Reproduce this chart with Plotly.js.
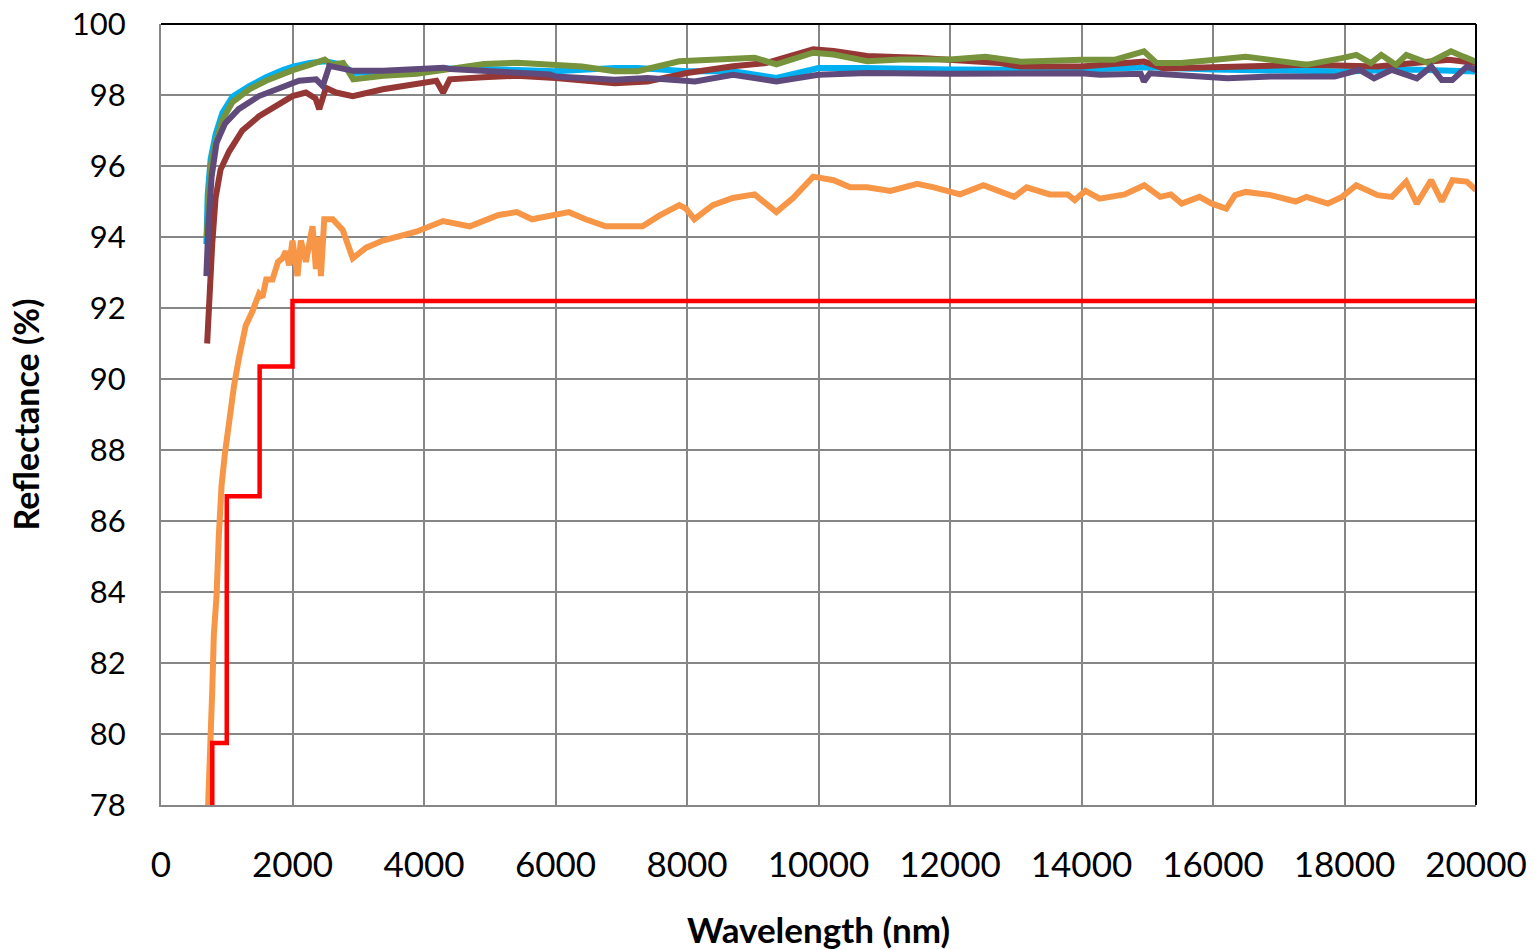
<!DOCTYPE html>
<html>
<head>
<meta charset="utf-8">
<script src="https://cdn.plot.ly/plotly-3.0.1.min.js"></script>
<style>html,body{margin:0;padding:0;background:#fff;}#chart{width:1538px;height:950px;}</style>
</head>
<body>
<div id="chart"></div>
<script>
// Wavelength (nm) and reflectance (%) per sample
const wlCyan = [690,710,755,832,934,1087,1342,1597,1852,2005,2260,2490,2770,2923,3383,3893,4300,4913,5423,6000,6900,7250,8000,8700,9360,10000,10700,12000,14000,15000,16000,17000,18000,19000,20000];
const rCyan  = [93.8,95.2,96.2,96.9,97.5,97.95,98.25,98.5,98.7,98.8,98.9,98.95,98.85,98.62,98.66,98.72,98.75,98.73,98.72,98.67,98.76,98.76,98.67,98.67,98.48,98.76,98.76,98.72,98.71,98.78,98.72,98.71,98.66,98.72,98.66];

const wlBrown = [702,730,779,830,906,1033,1237,1491,1745,2000,2204,2350,2407,2509,2662,2916,3374,3883,4188,4290,4392,4900,5410,6000,6900,7400,8000,8700,9200,9920,10230,10740,11500,12760,13080,14000,14950,15250,16330,17420,18500,19590,20000];
const rBrown  = [91.0,92.2,93.8,95.1,95.9,96.4,97.0,97.4,97.7,97.97,98.07,97.9,97.6,98.2,98.07,97.97,98.16,98.3,98.4,98.07,98.44,98.5,98.54,98.48,98.33,98.38,98.62,98.81,98.9,99.29,99.24,99.1,99.05,98.9,98.8,98.8,98.94,98.75,98.8,98.85,98.8,98.99,98.9];

const wlGreen = [695,705,755,832,934,1087,1342,1597,1852,2005,2260,2490,2600,2770,2923,3383,3893,4300,4913,5423,6000,6400,6900,7250,7880,8700,9030,9360,9920,10230,10740,11250,12000,12540,13080,14000,14500,14950,15140,15520,15790,16500,16880,17420,17960,18180,18400,18560,18780,18940,19270,19620,19810,20000];
const rGreen  = [94.0,94.3,96.0,96.65,97.3,97.8,98.16,98.4,98.6,98.7,98.85,99.0,98.85,98.9,98.44,98.54,98.6,98.7,98.87,98.91,98.86,98.8,98.67,98.67,98.95,99.0,99.05,98.86,99.19,99.14,98.95,99.0,99.0,99.08,98.94,98.99,98.99,99.23,98.9,98.9,98.94,99.08,98.99,98.85,99.04,99.13,98.9,99.13,98.85,99.13,98.9,99.23,99.08,98.94];

const wlPurple = [690,700,720,770,845,975,1180,1490,1852,2100,2360,2460,2560,2720,2923,3383,3893,4300,4400,4913,5423,5919,6000,6900,7400,8120,8700,9360,10000,10740,12000,12540,14000,14280,14900,14950,15040,16220,16880,17850,18230,18450,18720,19100,19320,19480,19640,19860,20000];
const rPurple  = [92.9,93.6,94.3,95.7,96.65,97.2,97.6,97.97,98.25,98.4,98.44,98.25,98.82,98.77,98.68,98.68,98.73,98.77,98.73,98.68,98.63,98.58,98.52,98.43,98.48,98.38,98.57,98.38,98.57,98.62,98.6,98.61,98.61,98.57,98.6,98.38,98.61,98.47,98.52,98.52,98.71,98.47,98.71,98.47,98.8,98.42,98.42,98.8,98.71];

const wlOrange = [717,753,779,804,845,880,921,972,1033,1110,1186,1288,1389,1491,1542,1600,1695,1780,1847,1898,1950,2000,2076,2127,2204,2305,2356,2407,2432,2483,2611,2661,2763,2916,3120,3374,3883,4290,4697,5135,5410,5644,6000,6204,6458,6763,7069,7323,7578,7883,7985,8112,8392,8697,9028,9206,9359,9613,9919,10229,10483,10738,11094,11501,11756,12153,12509,12976,13165,13518,13789,13897,14060,14276,14656,14954,15198,15360,15523,15794,15984,16201,16336,16499,16878,17257,17420,17745,17962,18179,18504,18721,18938,19100,19317,19480,19642,19859,20000];
const rOrange  = [78,79.5,81.2,82.8,83.9,85.6,87.0,87.9,88.8,89.8,90.6,91.5,91.9,92.4,92.3,92.8,92.8,93.3,93.4,93.6,93.2,93.9,92.9,93.9,93.3,94.3,93.1,94.0,92.9,94.5,94.5,94.4,94.2,93.4,93.7,93.9,94.15,94.45,94.3,94.62,94.7,94.5,94.6,94.7,94.5,94.3,94.3,94.3,94.6,94.9,94.8,94.5,94.9,95.1,95.2,94.95,94.7,95.1,95.7,95.6,95.4,95.4,95.3,95.5,95.4,95.2,95.46,95.13,95.4,95.2,95.2,95.04,95.3,95.08,95.2,95.46,95.13,95.2,94.94,95.13,94.94,94.8,95.18,95.27,95.18,95.0,95.13,94.94,95.13,95.46,95.18,95.13,95.56,94.94,95.6,95.0,95.6,95.56,95.32];

const wlRed = [780,780,1000,1500,2000,20000];
const rRed  = [78,79.75,86.7,90.35,92.2,92.2];

const xTicks = [0,2000,4000,6000,8000,10000,12000,14000,16000,18000,20000];
const yTicks = [78,80,82,84,86,88,90,92,94,96,98,100];

const W = 6;
const traces = [
  {x: wlCyan, y: rCyan, mode:'lines', line:{color:'#00B0F0', width:W}},
  {x: wlBrown, y: rBrown, mode:'lines', line:{color:'#953735', width:W}},
  {x: wlGreen, y: rGreen, mode:'lines', line:{color:'#77933C', width:W}},
  {x: wlPurple, y: rPurple, mode:'lines', line:{color:'#604A7B', width:W}},
  {x: wlOrange, y: rOrange, mode:'lines', line:{color:'#F79646', width:W}},
  {x: wlRed, y: rRed, mode:'lines', line:{color:'#FF0000', width:4.5, shape:'hv'}}
];

const FONT = 'Lato, "Open Sans", sans-serif';
const layout = {
  width:1538, height:950,
  paper_bgcolor:'#ffffff', plot_bgcolor:'#ffffff',
  showlegend:false,
  margin:{l:161, r:62, t:24, b:145},
  xaxis:{
    range:[0,20000], tickvals:xTicks, ticktext:xTicks.map(String),
    showgrid:true, gridcolor:'#868686', gridwidth:2,
    showline:true, linecolor:'#868686', linewidth:2,
    zeroline:false, ticks:'outside', ticklen:28, tickcolor:'rgba(0,0,0,0)',
    tickfont:{family:FONT, size:35, color:'#000'},
    title:{text:'Wavelength (nm)', standoff:38,
      font:{family:FONT, size:35, color:'#000', weight:'bold'}}
  },
  yaxis:{
    range:[78,100], tickvals:yTicks, ticktext:yTicks.map(String),
    showgrid:true, gridcolor:'#868686', gridwidth:2,
    showline:true, linecolor:'#868686', linewidth:2,
    zeroline:false, ticks:'outside', ticklen:27, tickcolor:'rgba(0,0,0,0)',
    tickfont:{family:FONT, size:31, color:'#000'},
    title:{text:'Reflectance (%)', standoff:22,
      font:{family:FONT, size:34, color:'#000', weight:'bold'}}
  },
  shapes:[
    {type:'line', xref:'paper', yref:'paper', x0:0, x1:1, y0:1, y1:1, line:{color:'#000', width:2}},
    {type:'line', xref:'paper', yref:'paper', x0:1, x1:1, y0:0, y1:1, line:{color:'#000', width:2}}
  ]
};

Plotly.newPlot('chart', traces, layout, {displayModeBar:false, responsive:false});
</script>
</body>
</html>
